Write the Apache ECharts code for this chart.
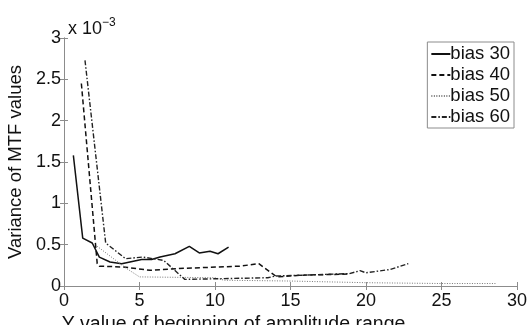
<!DOCTYPE html>
<html>
<head>
<meta charset="utf-8">
<script src="https://cdn.jsdelivr.net/npm/echarts@6/dist/echarts.min.js"></script>
<style>
  html, body { margin: 0; padding: 0; background: #fff; }
  #chart { width: 527px; height: 325px; }
</style>
</head>
<body>
<div id="chart"></div>
<script>
// values (y in units of 1e-3)
const bias30 = [[0.62,1.58],[1.24,0.58],[1.87,0.52],[2.34,0.35],[3.05,0.29],[3.82,0.27],[5.14,0.32],[5.8,0.32],[6.36,0.35],[7.35,0.39],[8.3,0.48],[8.96,0.40],[9.67,0.42],[10.2,0.39],[10.9,0.47]];
const bias40 = [[1.15,2.45],[2.2,0.27],[2.34,0.24],[3.93,0.23],[5.7,0.19],[7.46,0.21],[11.65,0.24],[12.9,0.27],[14.1,0.11],[15.6,0.13],[18.9,0.145]];
const bias50 = [[2.2,0.48],[4.08,0.22],[5.0,0.11],[10.0,0.10],[10.6,0.07],[15.0,0.06],[20.0,0.04],[25.0,0.03],[28.6,0.03]];
const bias60 = [[1.39,2.73],[2.76,0.52],[4.08,0.33],[5.2,0.35],[6.6,0.31],[8.0,0.08],[13.5,0.10],[14.0,0.12],[18.9,0.15],[19.6,0.185],[20.0,0.16],[21.6,0.2],[22.8,0.27]];
const seriesNames = ["bias 30", "bias 40", "bias 50", "bias 60"];

const font = "Liberation Sans, Arial, Helvetica, sans-serif";
const boxColor = "#8c8c8c";
const ink = "#111";

const chart = echarts.init(document.getElementById("chart"));

const lineSeries = (name, data, type, width, color) => ({
  name,
  type: "line",
  data,
  symbol: "none",
  animation: false,
  lineStyle: { color, width, type },
  itemStyle: { color },
});

chart.setOption({
  backgroundColor: "#fff",
  textStyle: { fontFamily: font },
  // v6 shrinks the grid to fit labels by default; the reference lets the x name run off the bottom
  grid: { left: 64, right: 10, top: 38, bottom: 39, outerBoundsMode: "none" },
  title: {
    text: "x 10{sup|−3}",
    left: 63,
    top: 12,
    textStyle: {
      fontFamily: font,
      fontSize: 18,
      fontWeight: "normal",
      color: ink,
      rich: { sup: { fontSize: 12, verticalAlign: "top", padding: [0, 0, 12, 0], fontFamily: font, color: ink } },
    },
  },
  legend: {
    data: seriesNames,
    orient: "vertical",
    right: 13,
    top: 42,
    itemWidth: 19,
    itemHeight: 12,
    itemGap: 1,
    padding: [2, 4, 1, 3],
    borderColor: boxColor,
    borderWidth: 1,
    backgroundColor: "#fff",
    itemStyle: { opacity: 0 },
    textStyle: { fontFamily: font, fontSize: 18.5, lineHeight: 20, color: ink, padding: [0, 0, 0, -5] },
  },
  xAxis: [
    {
      type: "value",
      min: 0,
      max: 30,
      interval: 5,
      name: "Y value of beginning of amplitude range",
      nameLocation: "middle",
      nameGap: 21,
      nameTextStyle: { fontFamily: font, fontSize: 19.5, color: ink, padding: [0, 114, 0, 0] },
      axisLine: { show: true, lineStyle: { color: boxColor } },
      axisTick: { inside: true, length: 4, lineStyle: { color: boxColor } },
      axisLabel: { fontFamily: font, fontSize: 18, color: ink, margin: 6 },
      splitLine: { show: false },
    },
    {
      type: "value",
      position: "top",
      min: 0,
      max: 30,
      interval: 5,
      axisLine: { show: true, lineStyle: { color: boxColor } },
      axisTick: { inside: true, length: 4, lineStyle: { color: boxColor } },
      axisLabel: { show: false },
      splitLine: { show: false },
    },
  ],
  yAxis: [
    {
      type: "value",
      min: 0,
      max: 3,
      interval: 0.5,
      name: "Variance of MTF values",
      nameLocation: "middle",
      nameGap: 32,
      nameTextStyle: { fontFamily: font, fontSize: 18.5, color: ink },
      axisLine: { show: true, lineStyle: { color: boxColor } },
      axisTick: { inside: true, length: 4, lineStyle: { color: boxColor } },
      axisLabel: { fontFamily: font, fontSize: 18, color: ink, margin: 3 },
      splitLine: { show: false },
    },
    {
      type: "value",
      position: "right",
      min: 0,
      max: 3,
      interval: 0.5,
      axisLine: { show: true, lineStyle: { color: boxColor } },
      axisTick: { inside: true, length: 4, lineStyle: { color: boxColor } },
      axisLabel: { show: false },
      splitLine: { show: false },
    },
  ],
  series: [
    lineSeries("bias 30", bias30, "solid", 1.5, ink),
    lineSeries("bias 40", bias40, [5, 3], 1.5, ink),
    lineSeries("bias 50", bias50, [1, 1.5], 1, "#777"),
    lineSeries("bias 60", bias60, [5, 2, 1.5, 2], 1.4, "#222"),
  ],
});
</script>
</body>
</html>
